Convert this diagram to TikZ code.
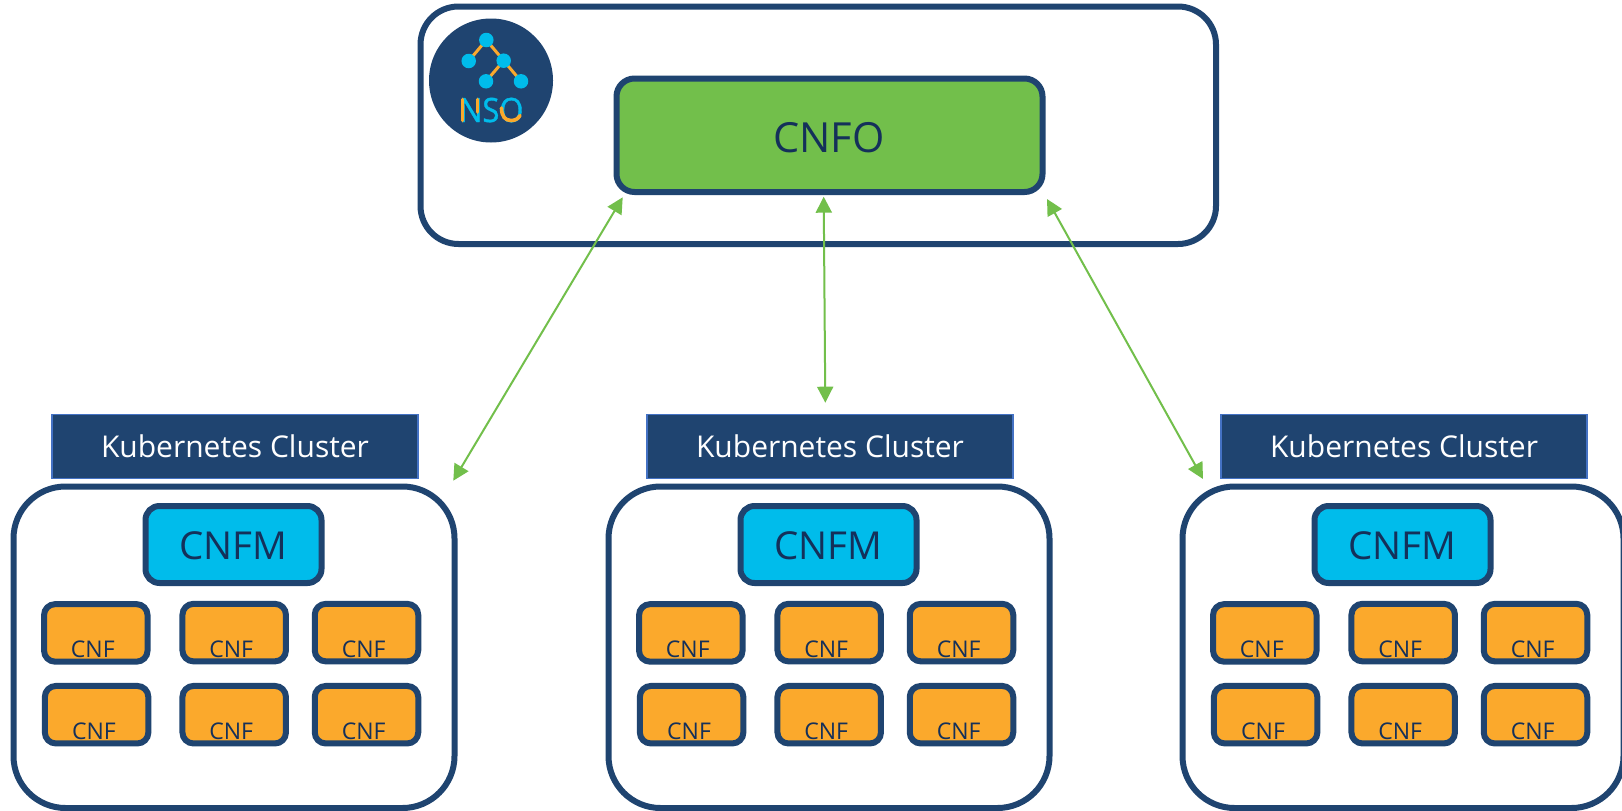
\documentclass[tikz,border=0pt]{standalone}
\usepackage{fontspec}
\setmainfont{Open Sans}
\newfontfamily\nsofont[FakeStretch=0.92,FakeBold=1.2]{Open Sans}
\usetikzlibrary{arrows.meta}
\definecolor{navy}{HTML}{1F4470}
\definecolor{inktxt}{HTML}{14305A}
\definecolor{grn}{HTML}{72BF4B}
\definecolor{cyn}{HTML}{00BCEB}
\definecolor{org}{HTML}{FBA92C}
\definecolor{lblline}{HTML}{4472C4}
\tikzset{
  x=1pt,y=-1pt,
  box/.style={draw=navy,line width=6pt,rounded corners=#1,inner sep=0pt},
  cnfbox/.style={box=11pt,fill=org,minimum width=103.5pt,minimum height=57.5pt},
  cnfmbox/.style={box=14pt,fill=cyn,minimum width=176pt,minimum height=77pt},
  clusterbox/.style={box=52pt,fill=white,minimum width=441pt,minimum height=321.5pt},
  lblbox/.style={draw=lblline,line width=1.2pt,fill=navy,minimum width=366pt,minimum height=64pt,inner sep=0pt},
  lbltxt/.style={text=white,font=\fontsize{30}{32}\selectfont,inner sep=0pt,anchor=base},
  cnftxt/.style={text=inktxt,font=\fontsize{23}{25}\selectfont,inner sep=0pt,anchor=base},
  cnfmtxt/.style={text=inktxt,font=\fontsize{38.5}{40}\selectfont,inner sep=0pt,anchor=center},
  link/.style={draw=grn,line width=2pt,{Triangle[length=16pt,width=16pt]}-{Triangle[length=16pt,width=16pt]},shorten <=0pt,shorten >=0pt},
  treeedge/.style={draw=org,line width=3pt},
  treedot/.style={circle,fill=cyn,minimum size=14.5pt,inner sep=0pt},
  nsostroke/.style={draw=org,line width=3.6pt,line cap=round},
}
\newcommand{\cnfcell}[4]{% name, x, y(top of box centre), xtext
  \node[cnfbox] (#1) at (#2,#3) {};
  \node[cnftxt] (#1t) at (#4,#3+24.8) {CNF};
}
\newcommand{\clusterat}[2]{% id, dx
  \begin{scope}[xshift=#2pt]
  \node[lblbox] (lbl#1) at (235,446.8) {};
  \node[lbltxt] (lblt#1) at (235,457.5) {Kubernetes Cluster};
  \node[clusterbox] (cl#1) at (234,647.25) {};
  \node[cnfmbox] (cnfm#1) at (233.5,544.5) {};
  \node[cnfmtxt] (cnfmt#1) at (233.5,546) {CNFM};
  \cnfcell{a#1}{95.8}{632.9}{92.8}
  \cnfcell{b#1}{234.2}{632.6}{231.2}
  \cnfcell{c#1}{366.5}{632.6}{363.7}
  \cnfcell{d#1}{96.6}{714.7}{94}
  \cnfcell{e#1}{234.2}{714.7}{231.2}
  \cnfcell{f#1}{366.5}{714.7}{363.7}
  \end{scope}
}
\begin{document}
\begin{tikzpicture}
\useasboundingbox (0,0) rectangle (1622,811);
\fill[white] (0,0) rectangle (1622,811);
\begin{scope}
\clip (0,0) rectangle (1622,811);
\clusterat{1}{0}
\clusterat{2}{595}
\clusterat{3}{1169}
\end{scope}
% NSO frame
\node[box=38pt,fill=white,minimum width=795.5pt,minimum height=237.5pt] (nso) at (818.25,125.25) {};
\node[box=18pt,fill=grn,minimum width=426pt,minimum height=113.5pt] (cnfo) at (829.5,135.25) {};
\node[text=inktxt,font=\fontsize{41.5}{44}\selectfont,inner sep=0pt] (cnfot) at (829,137.5) {CNFO};
% logo
\node[circle,fill=navy,minimum size=124pt,inner sep=0pt] (logo) at (491,80.5) {};
\coordinate (t1) at (486.3,40);
\coordinate (t2) at (468.7,61);
\coordinate (t3) at (503.7,60.7);
\coordinate (t4) at (486,81.3);
\coordinate (t5) at (521,81.3);
\draw[treeedge] (t2)--(t1)--(t3)--(t4) (t3)--(t5);
\node[treedot] (d1) at (t1) {};
\node[treedot] (d2) at (t2) {};
\node[treedot] (d3) at (t3) {};
\node[treedot] (d4) at (t4) {};
\node[treedot] (d5) at (t5) {};
\node[text=cyn,font=\fontsize{33.5}{35}\nsofont,inner sep=0pt,anchor=base west] (nsot) at (459,122) {NSO};
\draw[nsostroke] (462.5,99.5) -- (462.5,120.5);
\draw[nsostroke] (477.5,99.5) -- (477.5,112);
\draw[nsostroke] (501.5,108) .. controls (501.5,116) and (505,120.5) .. (511,120.5) .. controls (515,120.5) and (518,119) .. (520,115.5);
% connectors
\coordinate (la) at (622.7,197.3);
\coordinate (lb) at (453.3,480.7);
\coordinate (ma) at (823.7,196.7);
\coordinate (mb) at (825.3,402.7);
\coordinate (ra) at (1047,199);
\coordinate (rb) at (1203,479);
\draw[link] (la) -- (lb);
\draw[link] (ma) -- (mb);
\draw[link] (ra) -- (rb);
\end{tikzpicture}
\end{document}
